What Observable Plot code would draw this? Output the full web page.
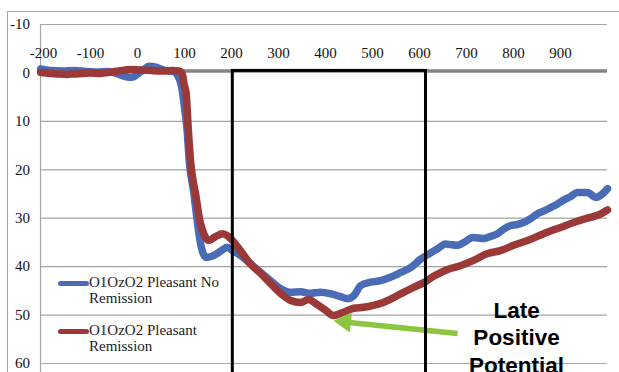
<!DOCTYPE html>
<html>
<head>
<meta charset="utf-8">
<script src="https://cdn.jsdelivr.net/npm/d3@7"></script>
<script src="https://cdn.jsdelivr.net/npm/@observablehq/plot@0.6"></script>
<style>
  body { margin: 0; background: #fff; }
  #wrap { position: relative; width: 619px; height: 372px; overflow: hidden; background: #fff; }
  #wrap svg { position: absolute; left: 0; top: 0; }
  #frame { position: absolute; left: 7px; top: 11px; width: 700px; height: 400px;
           border-top: 1px solid #a6a6a6; border-left: 1px solid #a6a6a6; pointer-events: none; }
  .sw { position: absolute; height: 5px; border-radius: 3px; }
  .lt { position: absolute; width: 150px; font-family: "Liberation Serif", serif; font-size: 15px;
        line-height: 16px; color: #222; }
</style>
</head>
<body>
<div id="wrap"><div id="frame"></div></div>
<script>
// ---- data ----
const yTicks = [-10, 0, 10, 20, 30, 40, 50, 60];
const xTicks = [-200, -100, 0, 100, 200, 300, 400, 500, 600, 700, 800, 900];
const seriesNames = ["O1OzO2 Pleasant No Remission", "O1OzO2 Pleasant Remission"];

const timeBlue = [-206, -185, -160, -135, -110, -85, -64, -45, -30, -18, -8, 0, 12, 25, 35, 50, 65, 78,
  84, 90, 95, 101, 105, 110, 120, 127, 132, 138, 146, 157, 168, 181, 191, 202, 219, 240, 262, 283, 304,
  326, 347, 368, 389, 411, 432, 447, 460, 475, 496, 517, 538, 560, 581, 602, 623, 640, 655, 668, 681,
  698, 713, 736, 750, 766, 780, 794, 808, 821, 836, 851, 865, 879, 893, 906, 922, 936, 957, 975, 989, 1000];
const ampBlue = [-0.8, -0.5, -0.4, -0.5, -0.3, -0.2, -0.3, 0.1, 0.6, 0.9, 0.8, 0.2, -0.6, -1.4, -1.3, -0.8, -0.4, -0.3,
  0.3, 1.5, 3.5, 8, 11.2, 18.1, 24.9, 30.5, 34, 36.8, 38.1, 37.9, 37.4, 36.5, 36.0, 36.7, 37.7, 39.4, 41.2, 42.9, 44.5,
  45.3, 45.2, 45.5, 45.3, 45.6, 46.2, 46.6, 46.0, 43.9, 43.2, 42.9, 42.2, 41.2, 40.2, 38.5, 37.2, 36.2, 35.3, 35.5, 35.6,
  34.8, 34.0, 34.2, 33.8, 33.2, 32.2, 31.5, 31.3, 30.9, 30.1, 29.1, 28.5, 27.8, 27.1, 26.3, 25.5, 24.7, 24.7, 25.7, 25.0, 23.9];

const timeRed = [-206, -185, -170, -150, -135, -115, -100, -80, -64, -40, -15, 5, 28, 50, 77, 86,
  91, 96, 99, 103.6, 107.8, 112.8, 117, 123.4, 132.6, 141, 151.8, 166, 181, 191, 202, 219, 240, 262, 283,
  304, 326, 347, 364, 379, 400, 417, 438, 460, 481, 502, 523, 545, 566, 587, 609, 630, 660, 687, 715,
  745, 772, 800, 830, 864, 900, 928, 957, 979, 1000];
const ampRed = [-0.1, 0.1, 0.2, 0.3, 0.2, 0.1, 0, 0.1, -0.1, -0.4, -0.7, -0.6, -0.5, -0.4, -0.5, -0.4,
  -0.3, 0.5, 2.3, 4.3, 11.2, 18.1, 21.5, 24.9, 30.5, 33.2, 34.6, 33.8, 33.2, 33.6, 34.6, 36.7, 39.4, 41.4, 43.5,
  45.5, 47.0, 47.4, 46.8, 47.6, 49.0, 50.1, 49.4, 48.6, 48.4, 48.0, 47.4, 46.4, 45.3, 44.3, 43.3, 42.0, 40.6, 39.8, 38.7,
  37.3, 36.7, 35.6, 34.6, 33.2, 31.9, 30.9, 30.0, 29.4, 28.3];

const windowBox = [{start: 202.8, end: 613.8}];
const annotationText = ["Late", "Positive", "Potential"];
const arrowFrom = {x: 681, y: 53.8};
const arrowTip = {x: 417, y: 51.2};

// ---- build ----
const blueColor = "#4a6bb5", redColor = "#9a3937", green = "#8cc63f";
const blue = timeBlue.map((t, i) => ({t, v: ampBlue[i]}));
const red = timeRed.map((t, i) => ({t, v: ampRed[i]}));
const xMin = -206.4, xMax = 1000, yMin = -10, yMax = 61.86;

const chart = Plot.plot({
  width: 619, height: 372,
  marginTop: 24, marginLeft: 40, marginRight: 12, marginBottom: 0,
  x: {domain: [xMin, xMax], axis: null},
  y: {domain: [yMin, yMax], reverse: true, axis: null},
  style: {fontFamily: "Liberation Serif, serif", fontSize: "15px", background: "transparent", color: "#111"},
  marks: [
    Plot.ruleY(yTicks.filter(d => d !== 0), {x1: xMin, x2: xMax, stroke: "#a3a3a3", strokeWidth: 1.2, strokeOpacity: 1}),
    Plot.ruleY([0], {x1: xMin, x2: xMax, stroke: "#858585", strokeWidth: 3.5, strokeOpacity: 1, dy: -2}),
    Plot.ruleX([xMin], {y1: yMin, y2: yMax, stroke: "#a3a3a3", strokeWidth: 1.2, strokeOpacity: 1}),
    Plot.axisY(yTicks, {tickSize: 0, tickPadding: 10.5, tickFormat: d => String(d), label: null, fill: "#111", fontSize: 15}),
    Plot.text(xTicks, {x: d => d, y: -4.1, text: d => String(d), fill: "#111", fontSize: 15}),
    Plot.line(blue, {x: "t", y: "v", stroke: blueColor, strokeWidth: 7.5, strokeLinejoin: "round", strokeLinecap: "round", curve: "monotone-x"}),
    Plot.line(red, {x: "t", y: "v", stroke: redColor, strokeWidth: 7.5, strokeLinejoin: "round", strokeLinecap: "round", curve: "monotone-x"}),
    Plot.link([0], {x1: arrowFrom.x, y1: arrowFrom.y, x2: 440, y2: 51.45, stroke: green, strokeWidth: 5.5}),
    Plot.dot([0], {x: 441.7, y: 51.4, symbol: "triangle", r: 7.5, rotate: -84, fill: green, stroke: "none"}),
    Plot.rect(windowBox, {x1: "start", x2: "end", y1: 0, y2: 70, stroke: "#000", strokeWidth: 3, fill: "none", dy: -2, clip: true}),
    Plot.text([annotationText.join("\n")], {x: 806.4, y: 54.45, text: d => d, fontFamily: "Liberation Sans, Arial, sans-serif",
      fontWeight: "bold", fontSize: 22.5, lineHeight: 1.22, fill: "#000"})
  ]
});
const wrap = document.getElementById("wrap");
wrap.insertBefore(chart, wrap.firstChild);

// legend (inside the plot area, lower left)
const legendItems = [
  {name: seriesNames[0], color: blueColor, swY: 281, textTop: 274},
  {name: seriesNames[1], color: redColor, swY: 329, textTop: 322}
];
for (const it of legendItems) {
  const sw = document.createElement("div");
  sw.className = "sw";
  sw.style.cssText = `left:58px;top:${it.swY}px;width:31px;background:${it.color}`;
  wrap.appendChild(sw);
  const t = document.createElement("div");
  t.className = "lt";
  t.style.cssText = `left:89px;top:${it.textTop}px`;
  t.textContent = it.name;
  wrap.appendChild(t);
}
</script>
</body>
</html>
